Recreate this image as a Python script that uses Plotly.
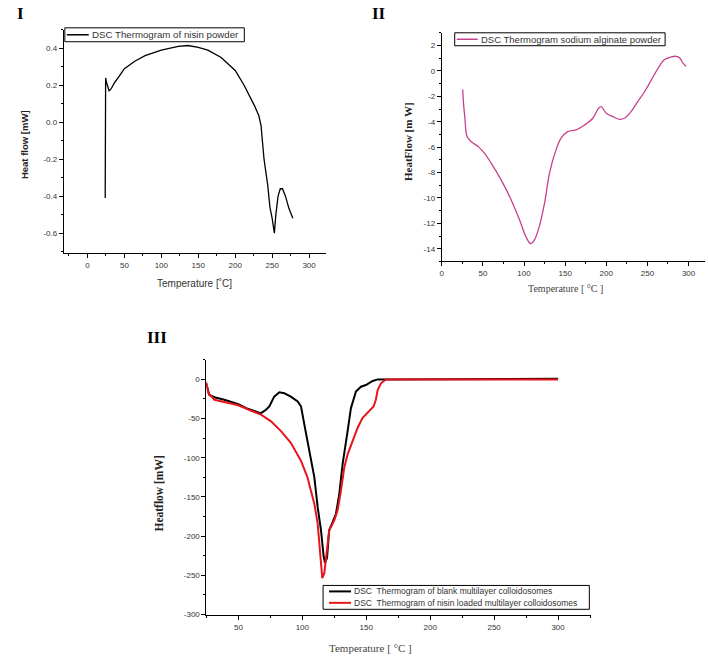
import plotly.graph_objects as go

W, H = 708, 663

# ---------------- Panel I : nisin powder ----------------
nisin_T = [24, 24, 24.6, 24.6, 25.5, 27, 29.3, 32, 36, 43, 50, 64, 78, 100, 123, 136, 150, 163,
           181, 200, 212, 226, 232, 235, 239, 244, 247, 250, 253, 255, 258, 261, 264, 268, 273, 278]
nisin_H = [-0.41, -0.08, -0.08, 0.24, 0.22, 0.20, 0.17, 0.18, 0.21, 0.25, 0.29, 0.33, 0.36, 0.39,
           0.41, 0.415, 0.405, 0.39, 0.35, 0.28, 0.20, 0.09, 0.035, -0.02, -0.20, -0.34, -0.46,
           -0.52, -0.60, -0.50, -0.40, -0.36, -0.36, -0.40, -0.47, -0.52]

# ---------------- Panel II : sodium alginate powder ----------------
alg_T = [25.5, 26.5, 28, 30.8, 35.7, 45, 52, 60, 72, 84, 94.4, 102.6, 108, 112.7, 118.8, 125, 131,
         139, 145, 153, 163, 173.5, 183.6, 190.5, 193.8, 200, 208, 216, 222, 230, 238, 246.5,
         254.6, 262.7, 270.8, 279, 285, 289, 293, 297]
alg_H = [-1.46, -2.6, -3.6, -5.17, -5.56, -6.0, -6.5, -7.26, -8.56, -10.1, -11.7, -13.1, -13.6,
         -13.3, -12.2, -10.4, -8.04, -6.2, -5.3, -4.78, -4.65, -4.26, -3.73, -2.95, -2.82, -3.34,
         -3.6, -3.81, -3.73, -3.21, -2.43, -1.64, -0.73, 0.18, 0.89, 1.1, 1.15, 1.04, 0.63, 0.37]

# ---------------- Panel III : colloidosomes ----------------
blank_T = [24.7, 27.3, 31.3, 39, 50, 57.3, 65, 67.7, 71.6, 74.2, 78, 82, 86, 91, 96.4, 99, 101.6,
           104, 106, 109.4, 112, 114.6, 116.7, 117.7, 119.3, 121, 123.7, 126.3, 128.9, 131.5,
           135.4, 138, 141.9, 145.8, 149.7, 155, 158.9, 166, 166.5, 186, 186.5, 200, 200.5,
           220, 220.5, 284, 284.5, 300]
blank_H = [-5, -19.8, -22.8, -26, -31.6, -37.5, -41.7, -43, -38.8, -34.6, -22, -16.4, -17.7, -22,
           -28.2, -34.6, -57.7, -78.8, -95.7, -125, -163, -192.6, -226, -234, -228, -192.6, -182,
           -171.5, -146, -108, -66, -36.7, -15.6, -9.3, -7.2, -2, 0, 0, 0.9, 0.9, 0, 0, 0.9,
           0.9, 0, 0, 0.9, 0.9]

loaded_T = [24.7, 26.6, 31.3, 41.7, 50, 60, 67.7, 75.5, 83.3, 91, 99, 104, 109.4, 112, 113.3,
            114.6, 115.6, 117.2, 119.3, 121, 125, 127.6, 130.2, 132.8, 135.4, 139.3, 143.2, 147,
            151, 155.7, 157.5, 158.9, 161.5, 164, 165.4, 300]
loaded_H = [-3, -17.7, -26, -30, -33, -40, -45, -53.5, -66, -81, -104, -125, -159, -184, -213.6,
            -243, -253.7, -247, -218, -192.6, -180, -167, -142, -112.5, -95.7, -78.8, -62, -49.3,
            -43, -34.6, -26, -13.5, -5, -1, 0, 0]

# tick labels
t1_x = [0, 50, 100, 150, 200, 250, 300]
t1_y = [0.4, 0.2, 0.0, -0.2, -0.4, -0.6]
t1_ylab = ["0.4", "0.2", "0.0", "-0.2", "-0.4", "-0.6"]
t2_x = [0, 50, 100, 150, 200, 250, 300]
t2_y = [2, 0, -2, -4, -6, -8, -10, -12, -14]
t2_ylab = ["2", "0", "-2", "-4", "-6", "-8", "-10", "-12", "-14"]
t3_x = [50, 100, 150, 200, 250, 300]
t3_y = [0, -50, -100, -150, -200, -250, -300]
t3_ylab = ["0", "-50", "-100", "-150", "-200", "-250", "-300"]

name1 = "DSC Thermogram of nisin powder"
name2 = "DSC Thermogram sodium alginate powder"
name3a = "DSC  Thermogram of blank multilayer colloidosomes"
name3b = "DSC  Thermogram of nisin loaded multilayer colloidosomes"

col1, col2, col3a, col3b = "black", "#c8408c", "black", "#e8141c"


def px(x):
    return x / W


def py(y):
    return 1 - y / H


fig = go.Figure()
fig.add_trace(go.Scatter(x=nisin_T, y=nisin_H, mode="lines", line=dict(color=col1, width=1.3),
                         name=name1, xaxis="x", yaxis="y"))
fig.add_trace(go.Scatter(x=alg_T, y=alg_H, mode="lines", line=dict(color=col2, width=1.3),
                         name=name2, xaxis="x2", yaxis="y2", line_shape="spline"))
fig.add_trace(go.Scatter(x=blank_T, y=blank_H, mode="lines", line=dict(color=col3a, width=2),
                         name=name3a, xaxis="x3", yaxis="y3"))
fig.add_trace(go.Scatter(x=loaded_T, y=loaded_H, mode="lines", line=dict(color=col3b, width=2),
                         name=name3b, xaxis="x3", yaxis="y3"))

tickfont = dict(family="Liberation Sans, Arial", size=8, color="#333")


def axis_common():
    return dict(showline=True, linecolor="black", linewidth=1, ticks="outside", ticklen=4,
                tickcolor="black", showgrid=False, zeroline=False, tickfont=tickfont)


def minor(d):
    return dict(dtick=d, tick0=0, ticklen=2, ticks="outside", tickcolor="black")


xa1 = axis_common()
xa1.update(domain=[px(62), px(325)], range=[-32, 323], anchor="y", tickvals=t1_x, minor=minor(25))
ya1 = axis_common()
ya1.update(domain=[py(255), py(30)], range=[-0.71, 0.5], anchor="x", tickvals=t1_y,
           ticktext=t1_ylab, minor=minor(0.1))
xa2 = axis_common()
xa2.update(domain=[px(441), px(705)], range=[0, 320], anchor="y2", tickvals=t2_x, minor=minor(25))
ya2 = axis_common()
ya2.update(domain=[py(263), py(33)], range=[-15, 3], anchor="x2", tickvals=t2_y,
           ticktext=t2_ylab, minor=minor(1))
xa3 = axis_common()
xa3.update(domain=[px(205), px(591)], range=[25, 326], anchor="y3", tickvals=t3_x, minor=minor(25))
ya3 = axis_common()
ya3.update(domain=[py(619), py(362)], range=[-301, 25], anchor="x3", tickvals=t3_y,
           ticktext=t3_ylab, minor=minor(25))

sans = "Liberation Sans, Arial"
serif = "Liberation Serif, Times New Roman"

annotations = []
shapes = []


def text(t, x, y, fam, size, color="#222", angle=0, xanchor="center"):
    annotations.append(dict(text=t, x=px(x), y=py(y), xref="paper", yref="paper", showarrow=False,
                            textangle=angle, xanchor=xanchor, yanchor="middle",
                            font=dict(family=fam, size=size, color=color)))


# panel labels
text("<b>I</b>", 18.5, 14, serif, 17, "black")
text("<b>II</b>", 378, 14, serif, 17, "black")
text("<b>III</b>", 155, 340, serif, 17, "black")

# axis titles
text("<b>Heat flow [mW]</b>", 22, 145, sans, 9.5, angle=-90)
text("Temperature [˚C]", 193, 285, sans, 10, "#333")
text("<b>HeatFlow [m W]</b>", 407, 142, serif, 11, angle=-90)
text("Temperature [ °C ]", 565, 290, serif, 10, "#444")
text("<b>Heatflow [mW]</b>", 157, 497, serif, 11.5, angle=-90)
text("Temperature [ °C ]", 370, 652, serif, 11, "#444")


# manual legends (box + line sample + label)
def legend_box(x0, y0, x1, y1):
    shapes.append(dict(type="rect", xref="paper", yref="paper", x0=px(x0), x1=px(x1),
                       y0=py(y1), y1=py(y0), line=dict(color="black", width=1),
                       fillcolor="white", layer="above"))


def legend_item(xs0, xs1, y, color, width, label, size):
    shapes.append(dict(type="line", xref="paper", yref="paper", x0=px(xs0), x1=px(xs1),
                       y0=py(y), y1=py(y), line=dict(color=color, width=width), layer="above"))
    text(label, xs1 + 1, y, sans, size, "#333", xanchor="left")


legend_box(63, 28, 243, 42)
legend_item(65, 87, 35, col1, 1.5, name1, 9.7)
legend_box(454, 33, 665, 46)
legend_item(456, 477, 39.5, col2, 1.5, name2, 9.5)
legend_box(322, 589, 589, 613)
legend_item(328, 350, 595, col3a, 2, name3a, 8.5)
legend_item(328, 350, 606.5, col3b, 2, name3b, 8.5)

fig.update_layout(
    width=W, height=H, margin=dict(l=0, r=0, t=0, b=0),
    paper_bgcolor="white", plot_bgcolor="white", showlegend=False,
    xaxis=xa1, yaxis=ya1, xaxis2=xa2, yaxis2=ya2, xaxis3=xa3, yaxis3=ya3,
    annotations=annotations, shapes=shapes,
)

fig.write_html("out.html", config={"displayModeBar": False},
               post_script="document.body.style.margin='0px';document.body.style.overflow='hidden';")
